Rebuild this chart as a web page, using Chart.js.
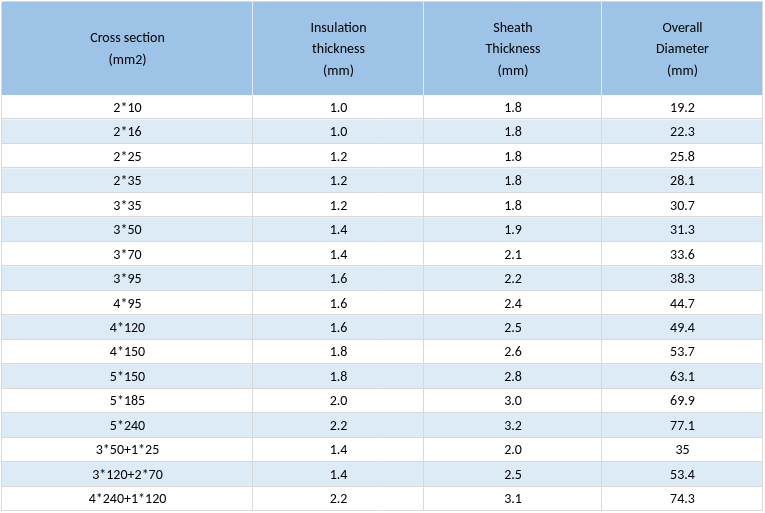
<!DOCTYPE html>
<html>
<head>
<meta charset="utf-8">
<script src="https://cdn.jsdelivr.net/npm/chart.js@4.4.1/dist/chart.umd.min.js"></script>
<style>
  html, body { margin: 0; padding: 0; background: #fff; }
  canvas { display: block; }
</style>
</head>
<body>
<canvas id="table" width="765" height="513"></canvas>
<script>
const headers = [
  ["Cross section", "(mm2)"],
  ["Insulation", "thickness", "(mm)"],
  ["Sheath", "Thickness", "(mm)"],
  ["Overall", "Diameter", "(mm)"]
];
const crossSection = ["2*10", "2*16", "2*25", "2*35", "3*35", "3*50", "3*70", "3*95", "4*95",
  "4*120", "4*150", "5*150", "5*185", "5*240", "3*50+1*25", "3*120+2*70", "4*240+1*120"];
const insulation = [1.0, 1.0, 1.2, 1.2, 1.2, 1.4, 1.4, 1.6, 1.6, 1.6, 1.8, 1.8, 2.0, 2.2, 1.4, 1.4, 2.2];
const sheath = [1.8, 1.8, 1.8, 1.8, 1.8, 1.9, 2.1, 2.2, 2.4, 2.5, 2.6, 2.8, 3.0, 3.2, 2.0, 2.5, 3.1];
const diameter = [19.2, 22.3, 25.8, 28.1, 30.7, 31.3, 33.6, 38.3, 44.7, 49.4, 53.7, 63.1, 69.9, 77.1, 35, 53.4, 74.3];

// layout
const colEdges = [0, 251, 422, 600, 761];
const headerTop = 2;
const font = '14px Carlito, Lato, "Liberation Sans", sans-serif';

const columns = [
  crossSection,
  insulation.map(v => v.toFixed(1)),
  sheath.map(v => v.toFixed(1)),
  diameter.map(v => String(v))
];

const tablePlugin = {
  id: "tableCells",
  afterDraw(chart) {
    const { ctx, chartArea } = chart;
    const x = chart.scales.x;
    const y = chart.scales.y;
    const left = x.getPixelForValue(colEdges[0]);
    const right = x.getPixelForValue(colEdges[colEdges.length - 1]);
    const rowH = y.getPixelForValue(1) - y.getPixelForValue(0);
    ctx.save();

    // header
    ctx.fillStyle = "#9dc3e6";
    ctx.fillRect(left, headerTop, right - left, chartArea.top - headerTop);

    // row backgrounds
    crossSection.forEach((c, i) => {
      const yc = y.getPixelForValue(i);
      ctx.fillStyle = i % 2 ? "#ddebf7" : "#ffffff";
      ctx.fillRect(left, yc - rowH / 2, right - left, rowH);
    });

    // grid lines
    ctx.lineWidth = 1;
    ctx.strokeStyle = "#d9d9d9";
    ctx.beginPath();
    crossSection.forEach((c, i) => {
      const yb = Math.round(y.getPixelForValue(i) + rowH / 2) - 0.5;
      ctx.moveTo(left, yb);
      ctx.lineTo(right, yb);
    });
    colEdges.forEach(e => {
      const xe = Math.round(x.getPixelForValue(e)) - 0.5;
      ctx.moveTo(xe, chartArea.top);
      ctx.lineTo(xe, chartArea.bottom);
    });
    ctx.moveTo(left, headerTop - 0.5);
    ctx.lineTo(right, headerTop - 0.5);
    ctx.moveTo(left - 0.5, headerTop);
    ctx.lineTo(left - 0.5, chartArea.top);
    ctx.moveTo(Math.round(right) - 0.5, headerTop);
    ctx.lineTo(Math.round(right) - 0.5, chartArea.top);
    ctx.stroke();

    ctx.strokeStyle = "#e4edf6";
    ctx.beginPath();
    colEdges.slice(1, -1).forEach(e => {
      const xe = Math.round(x.getPixelForValue(e)) - 0.5;
      ctx.moveTo(xe, headerTop);
      ctx.lineTo(xe, chartArea.top);
    });
    ctx.stroke();

    // text
    ctx.font = font;
    ctx.textAlign = "center";
    ctx.textBaseline = "middle";
    ctx.fillStyle = "#000000";
    const headMid = (headerTop + chartArea.top) / 2 + 1;
    const lineH = 21.5;
    headers.forEach((lines, c) => {
      const xc = (x.getPixelForValue(colEdges[c]) + x.getPixelForValue(colEdges[c + 1])) / 2;
      lines.forEach((t, k) => {
        ctx.fillText(t, xc, headMid + (k - (lines.length - 1) / 2) * lineH);
      });
    });
    columns.forEach((vals, c) => {
      const xc = (x.getPixelForValue(colEdges[c]) + x.getPixelForValue(colEdges[c + 1])) / 2;
      vals.forEach((t, i) => {
        ctx.fillText(t, xc, y.getPixelForValue(i) + 1);
      });
    });
    ctx.restore();
  }
};

new Chart(document.getElementById("table"), {
  type: "bar",
  data: {
    labels: crossSection,
    datasets: []
  },
  options: {
    responsive: false,
    animation: false,
    devicePixelRatio: 1,
    layout: { padding: { left: 2, right: 2, top: 95, bottom: 2 } },
    plugins: { legend: { display: false }, tooltip: { enabled: false } },
    scales: {
      x: { type: "linear", offset: false, min: colEdges[0], max: colEdges[colEdges.length - 1], display: false },
      y: { type: "category", labels: crossSection, offset: true, display: false }
    }
  },
  plugins: [tablePlugin]
});
</script>
</body>
</html>
